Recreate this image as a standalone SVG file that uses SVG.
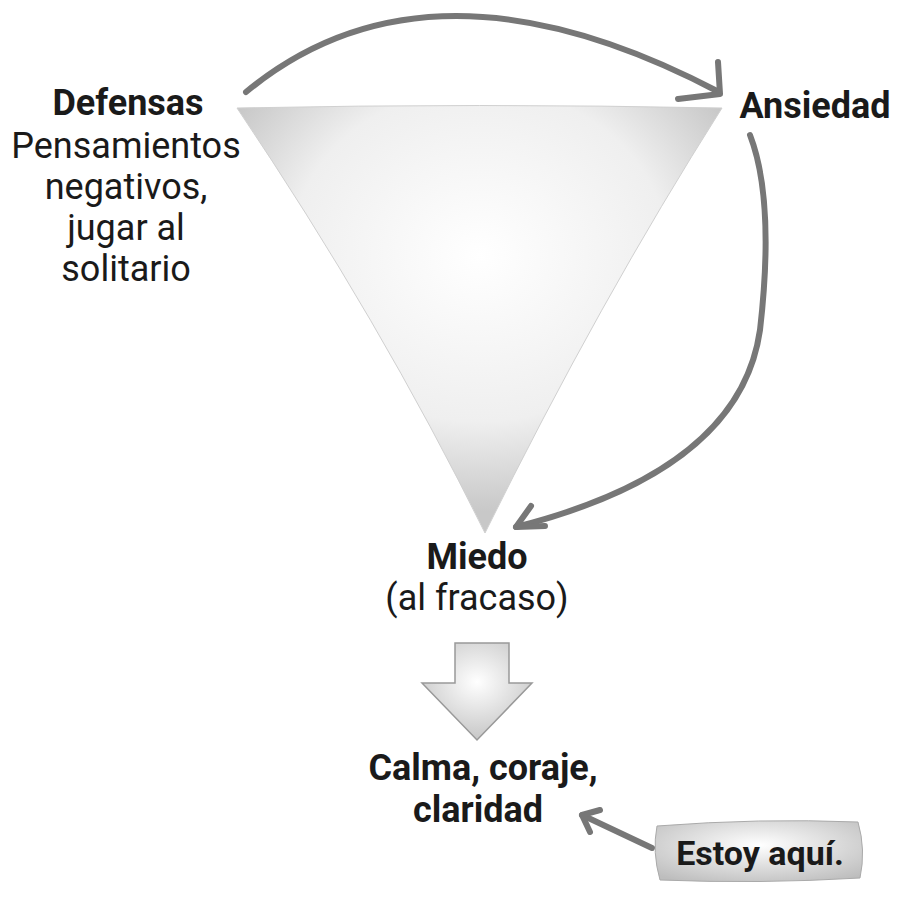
<svg xmlns="http://www.w3.org/2000/svg" width="910" height="912" viewBox="0 0 910 912">
<defs>
<radialGradient id="g" cx="0.5" cy="0.35" r="0.6">
<stop offset="0" stop-color="#ffffff"/><stop offset="0.65" stop-color="#efefef"/><stop offset="1" stop-color="#c8c8c8"/>
</radialGradient>
<radialGradient id="g2" cx="0.5" cy="0.4" r="0.7">
<stop offset="0" stop-color="#ffffff"/><stop offset="1" stop-color="#bdbdbd"/>
</radialGradient>
<style>
text{font-family:Roboto,"Open Sans",sans-serif;font-size:36px;fill:#1a1a1a;text-anchor:middle}
.b{font-weight:bold}
.c{fill:none;stroke:#777;stroke-width:6;stroke-linecap:round;stroke-linejoin:round}
</style>
</defs>
<g id="triangle"><path d="M237,108 Q480,103 722,108 Q600,300 485,533 Q380,320 237,108 Z" fill="url(#g)" stroke="#d0d0d0" stroke-width="1"/></g>
<g id="connectors">
<path class="c" d="M246,92 Q430,-60 719,92"/>
<path class="c" d="M718,62 L720,94 L678,99"/>
<path class="c" d="M750,135 Q775,200 760,330 Q740,470 516,527"/>
<path class="c" d="M531,506 L516,527 L545,526"/>
<path d="M455,643 H509 V683 H532 L477,740 L422,683 H455 Z" fill="url(#g2)" stroke="#999" stroke-width="1.5"/>
<path class="c" d="M652,848 L582,815" stroke-width="4"/>
<path class="c" d="M590,832 L582,815 L600,810" stroke-width="4"/>
</g>
<g id="defensas"><text class="b" x="128" y="115">Defensas</text>
<text x="126" y="158">Pensamientos</text><text x="126" y="199">negativos,</text><text x="126" y="240">jugar al</text><text x="126" y="281">solitario</text></g>
<g id="ansiedad"><text class="b" x="815" y="118">Ansiedad</text></g>
<g id="miedo"><text class="b" x="477" y="569">Miedo</text><text x="477" y="610">(al fracaso)</text></g>
<g id="calma"><text class="b" x="483" y="780">Calma, coraje,</text><text class="b" x="478" y="822">claridad</text></g>
<g id="estoy"><path d="M657,826 Q760,818 858,822 Q866,850 860,878 Q760,884 660,880 Q652,852 657,826 Z" fill="url(#g2)" stroke="#aaa"/>
<text class="b" x="760" y="865" style="font-size:34px">Estoy aquí.</text></g>
</svg>
